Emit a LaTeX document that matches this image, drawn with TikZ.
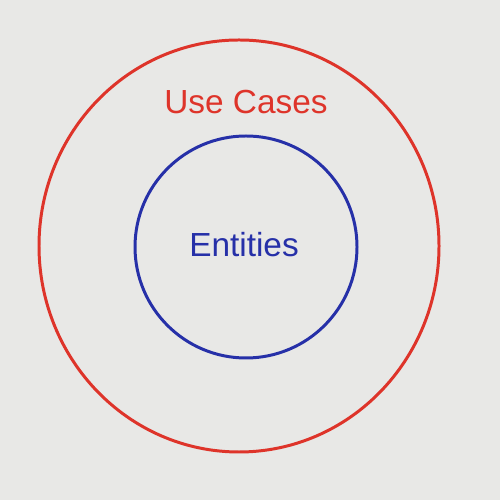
\documentclass[tikz,border=0pt]{standalone}
\usepackage{fontspec}
\setmainfont{Liberation Sans}
\usepackage{xcolor}
\usetikzlibrary{positioning}

\definecolor{paper}{RGB}{232,232,230}
\definecolor{penred}{RGB}{222,52,42}
\definecolor{penblue}{RGB}{38,48,168}

\tikzset{
    ring/.style={line width=1.7pt},
    label/.style={font=\fontsize{19}{22}\selectfont}
}

\begin{document}
\begin{tikzpicture}
\fill[paper] (0,0) rectangle (10,10);
\useasboundingbox (0,0) rectangle (10,10);

% outer ring
\draw[ring, penred] (4.78,5.08) ellipse (4.0cm and 4.12cm);
\node[label, text=penred] (usecases) at (4.92,7.96) {Use Cases};

% inner ring
\draw[ring, penblue] (4.92,5.06) circle (2.22cm);
\node[label, text=penblue] (entities) at (4.88,5.1) {Entities};
\end{tikzpicture}
\end{document}
